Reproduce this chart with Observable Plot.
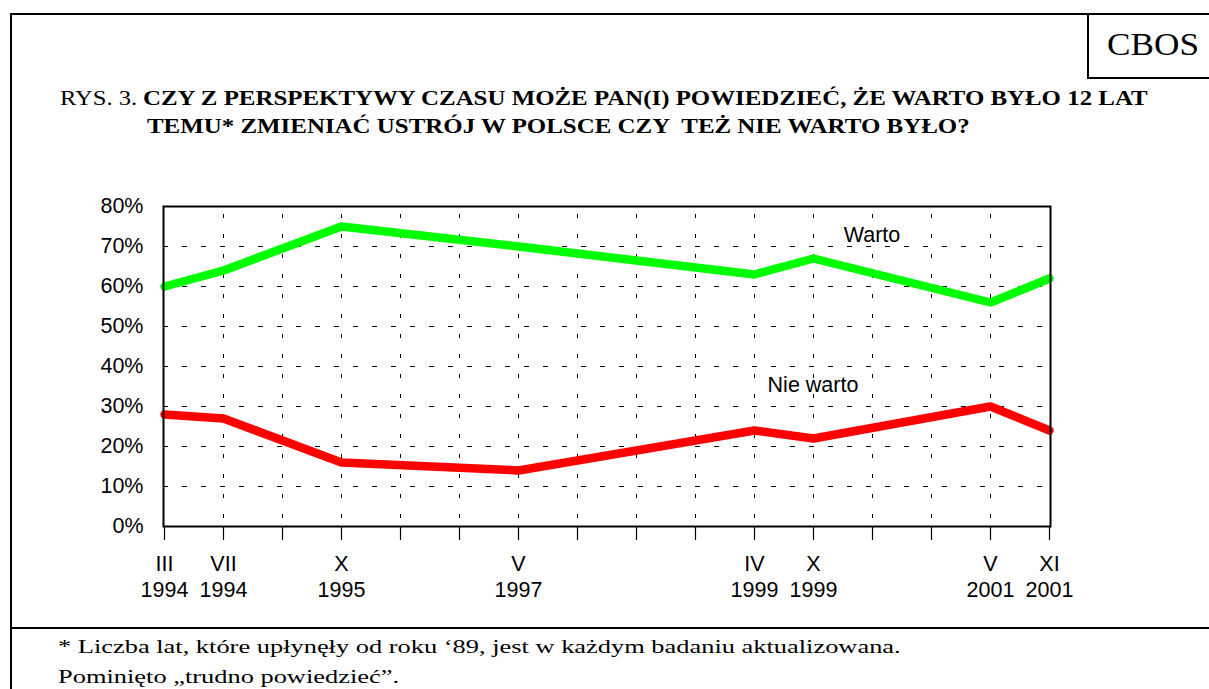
<!DOCTYPE html>
<html>
<head>
<meta charset="utf-8">
<script src="https://cdn.jsdelivr.net/npm/d3@7"></script>
<script src="https://cdn.jsdelivr.net/npm/@observablehq/plot@0.6"></script>
<style>
  html, body { margin: 0; padding: 0; background: #fff; }
  #page { position: relative; width: 1209px; height: 689px; overflow: hidden; background: #fff; }
  .frame-top { position: absolute; left: 11px; top: 13px; width: 1300px; height: 0; border-top: 2.5px solid #000; }
  .frame-left { position: absolute; left: 10px; top: 13px; width: 0; height: 700px; border-left: 2.5px solid #000; }
  .sep { position: absolute; left: 10px; top: 627px; width: 1300px; height: 0; border-top: 2.5px solid #000; }
  .cbos { position: absolute; left: 1087px; top: 13px; width: 200px; height: 64px; border-left: 2.5px solid #000; border-bottom: 2.5px solid #000; }
  .cbos span { position: absolute; left: 18px; top: 14px; font-family: "Liberation Serif", serif; font-size: 32px; line-height: 34px; transform: scaleX(1.1); transform-origin: left center; }
  .title { position: absolute; font-family: "Liberation Serif", serif; color: #000; white-space: pre; font-size: 20px; line-height: 23px; transform-origin: left center; }
  .rys { left: 60px; top: 87px; transform: scaleX(1.23); }
  .b1 { left: 143px; top: 87px; font-weight: bold; transform: scaleX(1.244); }
  .b2 { left: 147px; top: 115px; font-weight: bold; transform: scaleX(1.246); }
  .note { position: absolute; left: 58px; font-family: "Liberation Serif", serif; font-size: 19px; white-space: pre; transform: scaleX(1.39); transform-origin: left center; }
  #chart { position: absolute; left: 0; top: 190px; }
</style>
</head>
<body>
<div id="page">
  <div class="frame-top"></div>
  <div class="frame-left"></div>
  <div class="cbos"><span>CBOS</span></div>
  <div class="title rys">RYS. 3.</div>
  <div class="title b1">CZY Z PERSPEKTYWY CZASU MOŻE PAN(I) POWIEDZIEĆ, ŻE WARTO BYŁO 12 LAT</div>
  <div class="title b2">TEMU* ZMIENIAĆ USTRÓJ W POLSCE CZY  TEŻ NIE WARTO BYŁO?</div>
  <div id="chart"></div>
  <div class="sep"></div>
  <div class="note" style="top:636px">* Liczba lat, które upłynęły od roku ‘89, jest w każdym badaniu aktualizowana.</div>
  <div class="note" style="top:666px">Pominięto „trudno powiedzieć”.</div>
</div>
<script>
// 16 equally spaced slots on the x axis; surveys occupy some of them
const slots = ["s0","s1","s2","s3","s4","s5","s6","s7","s8","s9","s10","s11","s12","s13","s14","s15"];
const slotLabels = {
  s0: "III\n1994", s1: "VII\n1994", s3: "X\n1995", s6: "V\n1997",
  s10: "IV\n1999", s11: "X\n1999", s14: "V\n2001", s15: "XI\n2001"
};
const surveySlots = ["s0","s1","s3","s6","s10","s11","s14","s15"];
const warto    = [60, 64, 75, 70, 63, 67, 56, 62];
const nieWarto = [28, 27, 16, 14, 24, 22, 30, 24];
const yTicks = [0, 10, 20, 30, 40, 50, 60, 70, 80];
const gridY = [10, 20, 30, 40, 50, 60, 70];
const seriesLabels = [
  {text: "Warto", slot: "s12", value: 72.7, dx: 8},
  {text: "Nie warto", slot: "s11", value: 35.3, dx: -7}
];

const wartoData = surveySlots.map((s, i) => ({slot: s, value: warto[i]}));
const nieData = surveySlots.map((s, i) => ({slot: s, value: nieWarto[i]}));
const innerSlots = slots.slice(1, -1);

const chart = Plot.plot({
  width: 1209,
  height: 420,
  marginTop: 16,
  marginBottom: 84,
  marginLeft: 163,
  marginRight: 159,
  style: {fontFamily: "'Liberation Sans', Arial, sans-serif", background: "transparent"},
  x: {type: "point", domain: slots, padding: 0},
  y: {domain: [0, 80]},
  marks: [
    Plot.ruleY(gridY, {y: d => d, stroke: "#000", strokeWidth: 1, strokeDasharray: "5,14"}),
    Plot.ruleX(innerSlots, {x: d => d, stroke: "#000", strokeWidth: 1, strokeDasharray: "4,16", strokeDashoffset: -8}),
    Plot.axisX({ticks: slots, tickSize: 14, tickPadding: 12, tickFormat: d => slotLabels[d] || "", fontSize: 21.5, lineHeight: 1.21, stroke: "#000", strokeWidth: 1.2, label: null}),
    Plot.axisY({ticks: yTicks, tickSize: 0, tickPadding: 20, tickFormat: d => d + "%", fontSize: 21.5, label: null}),
    Plot.line(wartoData, {x: "slot", y: "value", stroke: "#00ff00", strokeWidth: 8.5, strokeLinecap: "round", strokeLinejoin: "round"}),
    Plot.line(nieData, {x: "slot", y: "value", stroke: "#ff0000", strokeWidth: 8.5, strokeLinecap: "round", strokeLinejoin: "round"}),
    Plot.text(seriesLabels, {x: "slot", y: "value", text: "text", dx: "dx", fontSize: 21.5, fill: "#000"}),
    Plot.frame({stroke: "#000", strokeWidth: 2})
  ]
});
document.getElementById("chart").appendChild(chart);
</script>
</body>
</html>
